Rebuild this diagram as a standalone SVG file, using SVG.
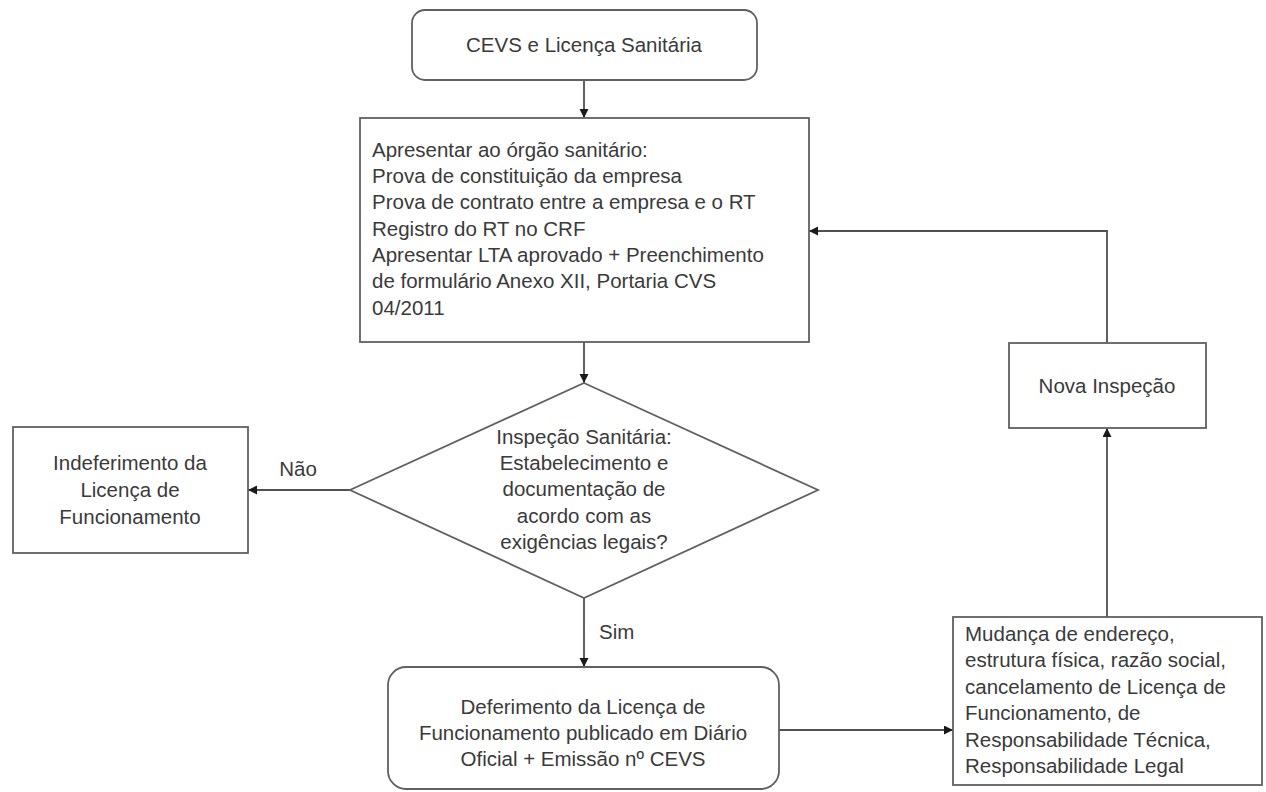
<svg xmlns="http://www.w3.org/2000/svg" width="1266" height="792" viewBox="0 0 1266 792">
<style>
.box{fill:#ffffff;stroke:#606060;stroke-width:1.8}
.t{font-family:"Liberation Sans",Arial,sans-serif;font-size:20.5px;fill:#3a3a3a}
.c{text-anchor:middle}
.ln{fill:none;stroke:#505050;stroke-width:1.8}
</style>
<defs>
<marker id="ah" markerUnits="userSpaceOnUse" markerWidth="10" markerHeight="10" refX="9" refY="4.5" orient="auto">
<path d="M0,0 L9,4.5 L0,9 z" fill="#1a1a1a"/>
</marker>
</defs>
<rect width="1266" height="792" fill="#ffffff"/>
<g id="connectors">
<line class="ln" x1="584" y1="80" x2="584" y2="118" marker-end="url(#ah)"/>
<line class="ln" x1="584" y1="342" x2="584" y2="383" marker-end="url(#ah)"/>
<line class="ln" x1="350" y1="490" x2="248" y2="490" marker-end="url(#ah)"/>
<line class="ln" x1="584" y1="598" x2="584" y2="667" marker-end="url(#ah)"/>
<line class="ln" x1="779" y1="730" x2="953" y2="730" marker-end="url(#ah)"/>
<line class="ln" x1="1107" y1="617" x2="1107" y2="428" marker-end="url(#ah)"/>
<polyline class="ln" points="1107,343 1107,231 809,231" marker-end="url(#ah)"/>
<text class="t" x="298" y="476" text-anchor="middle">Não</text>
<text class="t" x="599" y="639">Sim</text>
</g>
<g id="start">
<rect class="box" x="412" y="10" width="345" height="70" rx="13"/>
<text class="t c" x="584" y="52">CEVS e Licença Sanitária</text>
</g>
<g id="apresentar">
<rect class="box" x="360" y="118" width="449" height="224"/>
<text class="t" x="372" y="157">Apresentar ao órgão sanitário:</text>
<text class="t" x="372" y="183">Prova de constituição da empresa</text>
<text class="t" x="372" y="209">Prova de contrato entre a empresa e o RT</text>
<text class="t" x="372" y="236">Registro do RT no CRF</text>
<text class="t" x="372" y="262">Apresentar LTA aprovado + Preenchimento</text>
<text class="t" x="372" y="288">de formulário Anexo XII, Portaria CVS</text>
<text class="t" x="372" y="315">04/2011</text>
</g>
<g id="inspecao">
<polygon class="box" points="584,383 818,490 584,598 350,490"/>
<text class="t c" x="584" y="444">Inspeção Sanitária:</text>
<text class="t c" x="584" y="470">Estabelecimento e</text>
<text class="t c" x="584" y="496">documentação de</text>
<text class="t c" x="584" y="523">acordo com as</text>
<text class="t c" x="584" y="549">exigências legais?</text>
</g>
<g id="indeferimento">
<rect class="box" x="13" y="427" width="235" height="126"/>
<text class="t c" x="130" y="470">Indeferimento da</text>
<text class="t c" x="130" y="497">Licença de</text>
<text class="t c" x="130" y="524">Funcionamento</text>
</g>
<g id="deferimento">
<rect class="box" x="388" y="667" width="391" height="122" rx="18"/>
<text class="t c" x="583" y="714">Deferimento da Licença de</text>
<text class="t c" x="583" y="740">Funcionamento publicado em Diário</text>
<text class="t c" x="583" y="766">Oficial + Emissão nº CEVS</text>
</g>
<g id="mudanca">
<rect class="box" x="953" y="617" width="309" height="168"/>
<text class="t" x="965" y="641">Mudança de endereço,</text>
<text class="t" x="965" y="667">estrutura física, razão social,</text>
<text class="t" x="965" y="694">cancelamento de Licença de</text>
<text class="t" x="965" y="720">Funcionamento, de</text>
<text class="t" x="965" y="747">Responsabilidade Técnica,</text>
<text class="t" x="965" y="773">Responsabilidade Legal</text>
</g>
<g id="nova">
<rect class="box" x="1009" y="343" width="197" height="85"/>
<text class="t c" x="1107" y="393">Nova Inspeção</text>
</g>
</svg>
